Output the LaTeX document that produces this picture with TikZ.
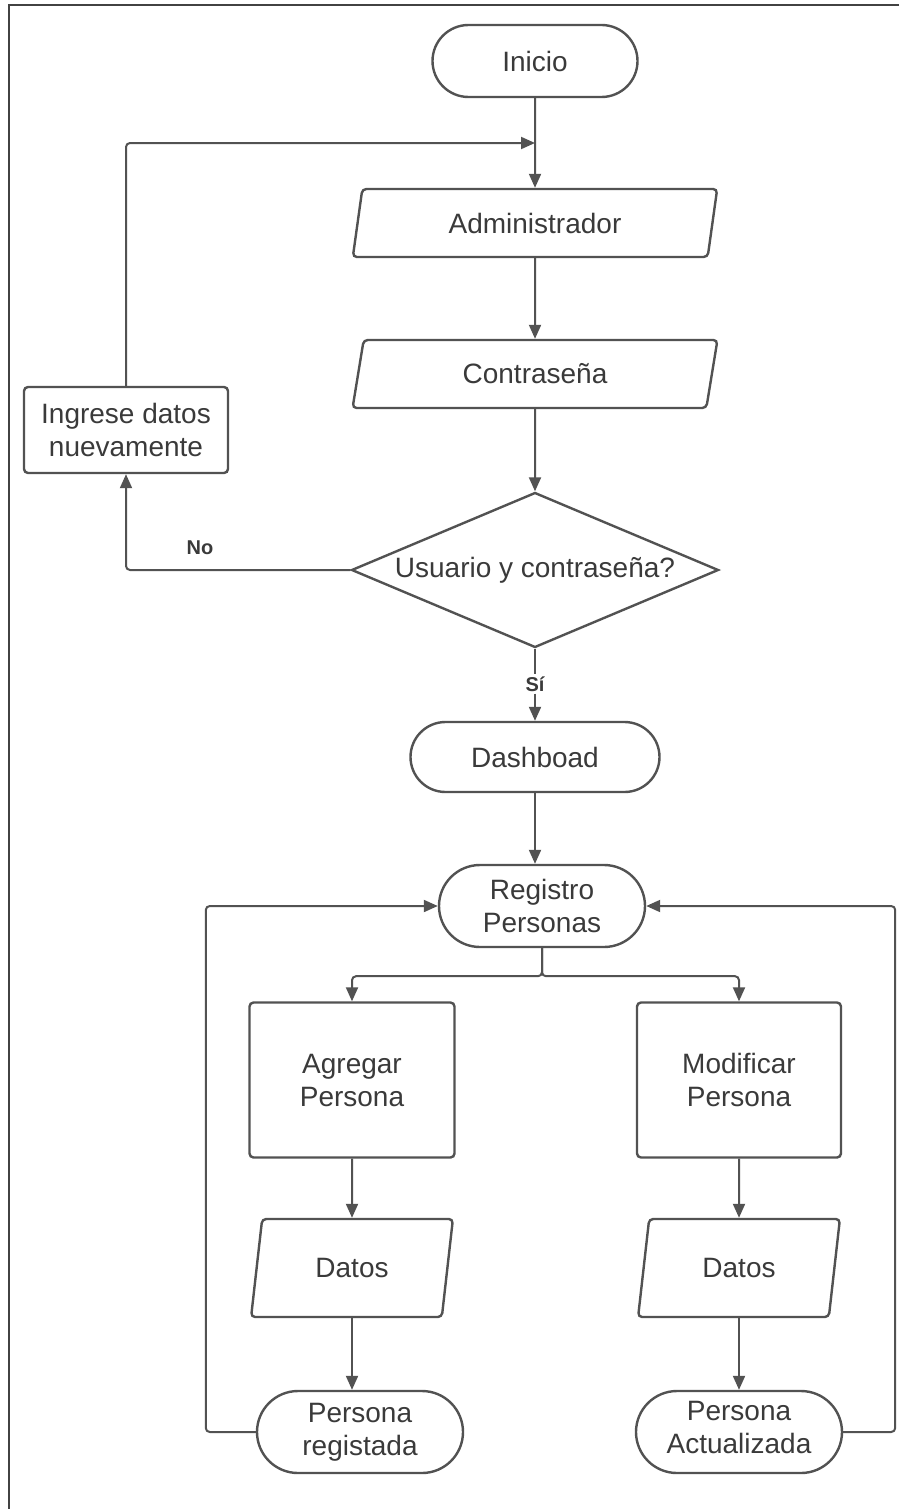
\documentclass[tikz,border=0pt]{standalone}
\usepackage{fontspec}
\setmainfont{Liberation Sans}
\usetikzlibrary{shapes.geometric,shapes.misc,arrows.meta}
\definecolor{linea}{HTML}{525252}
\definecolor{texto}{HTML}{3A3A3A}
\tikzset{
 base/.style={draw=linea, line width=2.4pt, text=texto, font=\fontsize{28}{33}\selectfont, align=center, inner sep=0pt},
 terminal/.style={base, rounded rectangle},
 entrada/.style={base, trapezium, trapezium left angle=77, trapezium right angle=103, trapezium stretches=true, rounded corners=4pt},
 proceso/.style={base, rectangle, rounded corners=4pt},
 decision/.style={base, diamond, shape aspect=2.4},
 flecha/.style={draw=linea, line width=2pt, rounded corners=4pt, -{Triangle[length=14pt,width=12pt]}},
 linea/.style={draw=linea, line width=2pt, rounded corners=4pt},
 etiqueta/.style={text=texto, font=\fontsize{20}{24}\selectfont\bfseries, inner sep=2pt}
}
\begin{document}
\begin{tikzpicture}[x=1pt, y=-1pt]
 \useasboundingbox (0,0) rectangle (899,1509);
 % Marco
 \draw[line width=2pt, color=linea!80!black] (899,5) -- (9,5) -- (9,1509);
 % Acceso
 \node[terminal, minimum width=205pt, minimum height=72pt] (inicio) at (535,61) {Inicio};
 \coordinate (union) at (535,143);
 \node[entrada, minimum width=365pt, minimum height=68pt] (admin) at (535,223) {Administrador};
 \node[entrada, minimum width=365pt, minimum height=68pt] (clave) at (535,374) {Contraseña};
 \node[decision, minimum width=367pt, minimum height=155pt] (valida) at (535,570) {Usuario y contraseña?};
 \node[proceso, minimum width=204pt, minimum height=86pt] (reintento) at (126,430) {Ingrese datos\\nuevamente};
 \node[etiqueta] (no) at (200,548) {No};
 \node[etiqueta, fill=white] (si) at (535,684) {Sí};
 \node[terminal, minimum width=249pt, minimum height=70pt] (dash) at (535,757) {Dashboad};
 % Registro
 \node[terminal, minimum width=206pt, minimum height=82pt] (registro) at (542,906) {Registro\\Personas};
 \node[proceso, minimum width=205pt, minimum height=155pt] (agregar) at (352,1080) {Agregar\\Persona};
 \node[proceso, minimum width=204pt, minimum height=155pt] (modificar) at (739,1080) {Modificar\\Persona};
 \node[entrada, minimum width=203pt, minimum height=98pt] (datosA) at (352,1268) {Datos};
 \node[entrada, minimum width=203pt, minimum height=98pt] (datosM) at (739,1268) {Datos};
 \node[terminal, minimum width=206pt, minimum height=82pt] (persA) at (360,1432) {Persona\\registada};
 \node[terminal, minimum width=206pt, minimum height=82pt] (persM) at (739,1432) {Persona\\Actualizada\strut};
 % Conectores
 \draw[flecha] (inicio.south) -- (admin.north);
 \draw[flecha] (reintento.north) |- (union);
 \draw[flecha] (admin.south) -- (clave.north);
 \draw[flecha] (clave.south) -- (valida.north);
 \draw[flecha] (valida.west) -| (reintento.south);
 \draw[linea] (valida.south) -- (si);
 \draw[flecha] (si) -- (dash.north);
 \draw[flecha] (dash.south) -- (dash.south |- registro.north);
 \draw[flecha] (registro.south) -- ++(0,28) -| (agregar.north);
 \draw[flecha] (registro.south) -- ++(0,28) -| (modificar.north);
 \draw[flecha] (agregar.south) -- (datosA.north);
 \draw[flecha] (modificar.south) -- (datosM.north);
 \draw[flecha] (datosA.south) -- (datosA.south |- persA.north);
 \draw[flecha] (datosM.south) -- (datosM.south |- persM.north);
 \draw[flecha] (persA.west) -- ++(-50,0) |- (registro.west);
 \draw[flecha] (persM.east) -- ++(52,0) |- (registro.east);
\end{tikzpicture}
\end{document}
